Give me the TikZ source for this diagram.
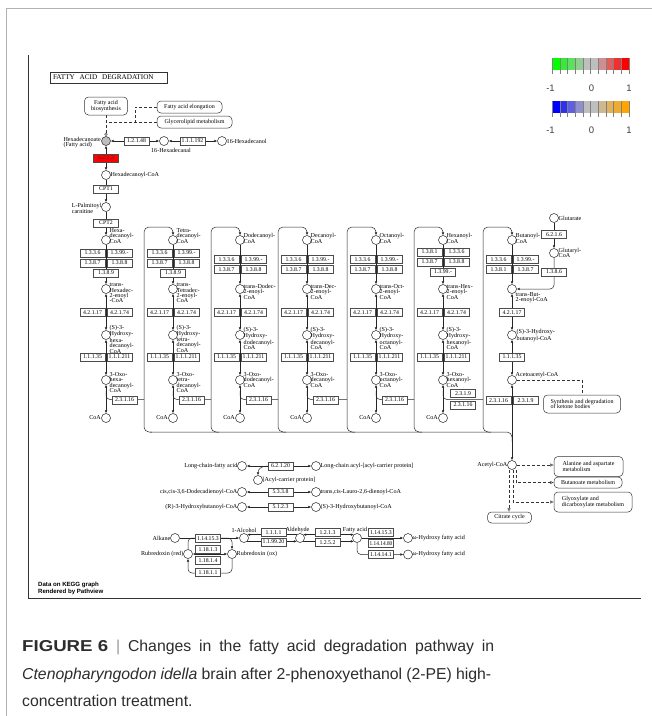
\documentclass[tikz,border=0pt]{standalone}
\usepackage{fontspec}
\setmainfont{Liberation Serif}
\newfontfamily\capsans{Liberation Sans}
\usetikzlibrary{arrows.meta,calc}
\pgfdeclarelayer{back}
\pgfdeclarelayer{bg}
\pgfsetlayers{back,bg,main}
\definecolor{kgray}{RGB}{190,190,190}
\definecolor{capc}{RGB}{45,45,45}
\definecolor{gA}{RGB}{0,255,0}
\definecolor{gB}{RGB}{48,239,48}
\definecolor{gC}{RGB}{95,223,95}
\definecolor{gD}{RGB}{143,206,143}
\definecolor{rA}{RGB}{206,143,143}
\definecolor{rB}{RGB}{223,95,95}
\definecolor{rC}{RGB}{239,48,48}
\definecolor{rD}{RGB}{255,0,0}
\definecolor{bA}{RGB}{0,0,255}
\definecolor{bB}{RGB}{48,48,239}
\definecolor{bC}{RGB}{95,95,223}
\definecolor{bD}{RGB}{143,143,206}
\definecolor{oA}{RGB}{206,184,143}
\definecolor{oB}{RGB}{223,178,95}
\definecolor{oC}{RGB}{239,171,48}
\definecolor{oD}{RGB}{255,165,0}
\tikzset{
  met/.style={circle,draw=black!85,fill=white,minimum size=9pt,inner sep=0pt,line width=0.5pt},
  enz/.style={rectangle,draw=black!70,fill=white,minimum width=25pt,minimum height=7.8pt,inner sep=0pt,line width=0.55pt,font=\fontsize{5.8}{5.8}\selectfont},
  lab/.style={inner sep=0pt,align=left,font=\fontsize{6.1}{5.4}\selectfont},
  ln/.style={draw=black!85,line width=0.5pt},
  fw/.style={ln,-{Latex[length=2.8pt,width=2.6pt]}},
  bw/.style={ln,{Latex[length=2.8pt,width=2.6pt]}-{Latex[length=2.8pt,width=2.6pt]}},
  dsh/.style={draw=black!80,line width=0.5pt,dash pattern=on 3pt off 2pt},
  dar/.style={dsh,-{Latex[open,length=3.5pt,width=3.5pt]}},
  mapb/.style={rectangle,rounded corners=4pt,draw=black!80,fill=white,line width=0.5pt,inner sep=0pt,align=left,font=\fontsize{6}{5.6}\selectfont},
  lgtick/.style={draw=black!50,line width=0.4pt},
  lgnum/.style={inner sep=0pt,font=\capsans\fontsize{9.5}{9.5}\selectfont,text=black!75},
  capline/.style={anchor=base west,inner sep=0pt,text=capc,font=\capsans\fontsize{15.8}{20}\selectfont},
}
\newcommand\epair[5]{%
  \node[enz] (#1l) at (#2-13.5,#3) {#4};
  \node[enz] (#1r) at (#2+13.5,#3) {#5};}
\newcommand\fcol[8]{%
  \node[met] (#1-a) at (#2,240) {};
  \node[lab,anchor=south west] (#1-al) at (#2+3.5,243.5) {#3};
  \node[met] (#1-t) at (#2,289) {};
  \node[lab,anchor=north west] (#1-tl) at (#2+3.5,#8) {#4};
  \node[met] (#1-h) at (#2,335) {};
  \node[lab,anchor=north west] (#1-hl) at (#2+3.5,#7) {#5};
  \node[met] (#1-o) at (#2,380) {};
  \node[lab,anchor=north west] (#1-ol) at (#2+3.5,372) {#6};
  \node[met] (#1-c) at (#2,418) {};
  \node[lab,anchor=east] (#1-cl) at (#2-5,418) {CoA};
  \epair{#1-hy}{#2}{312.5}{4.2.1.17}{4.2.1.74}
  \epair{#1-hd}{#2}{357}{1.1.1.35}{1.1.1.211}
  \begin{pgfonlayer}{bg}
    \draw[fw] (#1-a) -- (#1-t);
    \draw[bw] (#1-t) -- (#1-h);
    \draw[bw] (#1-h) -- (#1-o);
    \draw[bw] (#1-o) -- (#1-c);
  \end{pgfonlayer}}
\begin{document}
\begin{tikzpicture}[x=1pt,y=-1pt]
\useasboundingbox (0,0) rectangle (652,716);
\begin{pgfonlayer}{back}
\fill[white] (0,0) rectangle (652,716);
\end{pgfonlayer}
% frames
\draw[black!30,line width=1pt] (6,716) -- (6,8) -- (652,8);
\draw[black!80,line width=0.7pt] (28,55) -- (28,598) -- (641,598);
% title
\node[draw=black!80,line width=0.6pt,minimum height=11pt,text width=111pt,inner xsep=3pt,inner ysep=0pt,align=left,font=\fontsize{7.2}{7.2}\selectfont] (title) at (108.5,77.5) {FATTY\ \ ACID\ \ DEGRADATION};
% legend
\foreach \i/\cc in {0/gA,1/gB,2/gC,3/gD,4/kgray,5/kgray,6/rA,7/rB,8/rC,9/rD}
  \fill[\cc] (552+7.7*\i,58) rectangle (552+7.7*\i+7.7,70);
\foreach \i/\cc in {0/bA,1/bB,2/bC,3/bD,4/kgray,5/kgray,6/oA,7/oB,8/oC,9/oD}
  \fill[\cc] (552+7.7*\i,101) rectangle (552+7.7*\i+7.7,113);
\foreach \i in {0,...,10}{
  \draw[lgtick] (552+7.7*\i,58) -- (552+7.7*\i,73.5);
  \draw[lgtick] (552+7.7*\i,101) -- (552+7.7*\i,116.5);}
\node[lgnum] (lga1) at (550.5,88) {-1};
\node[lgnum] (lga2) at (591.5,88) {0};
\node[lgnum] (lga3) at (629,88) {1};
\node[lgnum] (lgb1) at (550.5,130) {-1};
\node[lgnum] (lgb2) at (591.5,130) {0};
\node[lgnum] (lgb3) at (629,130) {1};
% header
\node[mapb,align=center,minimum width=43pt,minimum height=18pt] (fab) at (106,106) {Fatty acid\\biosynthesis};
\node[mapb,minimum width=65pt,minimum height=12pt] (fae) at (189.5,107) {Fatty acid elongation};
\node[mapb,minimum width=75pt,minimum height=12pt] (glm) at (194.5,122) {Glycerolipid metabolism};
\node[met,fill=kgray] (hxa) at (106,141) {};
\node[lab,anchor=east] (hxal) at (101,142.5) {Hexadecanoate\\(Fatty acid)};
\node[enz] (e12148) at (136.5,141) {1.2.1.48};
\node[met] (hxd) at (164,141) {};
\node[lab] (hxdl) at (171,150.5) {16-Hexadecanal};
\node[enz] (e111192) at (192.5,141) {1.1.1.192};
\node[met] (hxol) at (222,141) {};
\node[lab,anchor=west] (hxoll) at (226.5,141) {16-Hexadecanol};
\node[enz,fill=red,text=black!80] (e6213) at (106,158) {6.2.1.3};
\node[met] (hcoa) at (106,175) {};
\node[lab,anchor=west] (hcoal) at (110.5,175) {Hexadecanoyl-CoA};
\node[enz] (cpt1) at (106,189) {CPT1};
\node[met] (lpc) at (106,207) {};
\node[lab,anchor=east] (lpcl) at (101.5,208.5) {L-Palmitoyl\\carnitine};
\node[enz] (cpt2) at (106,223) {CPT2};
\node[circle,draw=black!80,fill=white,inner sep=0pt,minimum size=2.6pt,line width=0.4pt] (fabend) at (106,134.2) {};
\coordinate (j1) at (135,107);
\coordinate (j2) at (135,122);
\coordinate (j3) at (106,122);
% columns
\fcol{k1}{106}{Hexa-\\decanoyl-\\CoA}{trans-\\Hexadec-\\2-enoyl\\-CoA}{(S)-3-\\Hydroxy-\\hexa-\\decanoyl-\\CoA}{3-Oxo-\\hexa-\\decanoyl-\\CoA}{325}{283}
\epair{k1-d1}{106}{253}{1.3.3.6}{1.3.99.-}
\epair{k1-d2}{106}{263}{1.3.8.7}{1.3.8.8}
\node[enz] (k1-d3) at (106,273) {1.3.8.9};
\node[enz] (k1-th) at (124.5,400) {2.3.1.16};
\fcol{k2}{173}{Tetra-\\decanoyl-\\CoA}{trans-\\Tetradec-\\2-enoyl-\\CoA}{(S)-3-\\Hydroxy-\\tetra-\\decanoyl-\\CoA}{3-Oxo-\\tetra-\\decanoyl-\\CoA}{325}{283}
\epair{k2-d1}{173}{253}{1.3.3.6}{1.3.99.-}
\epair{k2-d2}{173}{263}{1.3.8.7}{1.3.8.8}
\node[enz] (k2-d3) at (173,273) {1.3.8.9};
\node[enz] (k2-th) at (191.5,400) {2.3.1.16};
\fcol{k3}{240}{Dodecanoyl-\\CoA}{trans-Dodec-\\2-enoyl-\\CoA}{(S)-3-\\Hydroxy-\\dodecanoyl-\\CoA}{3-Oxo-\\dodecanoyl-\\CoA}{327}{284}
\epair{k3-d1}{240}{259.5}{1.3.3.6}{1.3.99.-}
\epair{k3-d2}{240}{269.5}{1.3.8.7}{1.3.8.8}
\node[enz] (k3-th) at (258.5,400) {2.3.1.16};
\fcol{k4}{307}{Decanoyl-\\CoA}{trans-Dec-\\2-enoyl-\\CoA}{(S)-3-\\Hydroxy-\\decanoyl-\\CoA}{3-Oxo-\\decanoyl-\\CoA}{327}{284}
\epair{k4-d1}{307}{259.5}{1.3.3.6}{1.3.99.-}
\epair{k4-d2}{307}{269.5}{1.3.8.7}{1.3.8.8}
\node[enz] (k4-th) at (325.5,400) {2.3.1.16};
\fcol{k5}{376}{Octanoyl-\\CoA}{trans-Oct-\\2-enoyl-\\CoA}{(S)-3-\\Hydroxy-\\octanoyl-\\CoA}{3-Oxo-\\octanoyl-\\CoA}{327}{284}
\epair{k5-d1}{376}{259.5}{1.3.3.6}{1.3.99.-}
\epair{k5-d2}{376}{269.5}{1.3.8.7}{1.3.8.8}
\node[enz] (k5-th) at (394.5,400) {2.3.1.16};
\fcol{k6}{443}{Hexanoyl-\\CoA}{trans-Hex-\\2-enoyl-\\CoA}{(S)-3-\\Hydroxy-\\hexanoyl-\\CoA}{3-Oxo-\\hexanoyl-\\CoA}{327}{284}
\epair{k6-d1}{443}{252}{1.3.8.1}{1.3.3.6}
\epair{k6-d2}{443}{262}{1.3.8.7}{1.3.8.8}
\node[enz] (k6-d3) at (443,272) {1.3.99.-};
\node[enz] (k6-th2) at (463,393.5) {2.3.1.9};
\node[enz] (k6-th) at (463,405) {2.3.1.16};
% butanoyl column
\node[met] (k7-a) at (512,240) {};
\node[lab,anchor=south west] (k7-al) at (515.5,243.5) {Butanoyl-\\CoA};
\epair{k7-d1}{512}{259.5}{1.3.3.6}{1.3.99.-}
\epair{k7-d2}{512}{269.5}{1.3.8.1}{1.3.8.7}
\node[met] (k7-t) at (512,289) {};
\node[lab,anchor=north west] (k7-tl) at (515.5,292) {trans-But-\\2-enoyl-CoA};
\node[enz] (k7-hy) at (512,312.5) {4.2.1.17};
\node[met] (k7-h) at (512,335) {};
\node[lab,anchor=west] (k7-hl) at (516.5,335.5) {(S)-3-Hydroxy-\\butanoyl-CoA};
\node[enz] (k7-hd) at (512,357) {1.1.1.35};
\node[met] (k7-o) at (512,380) {};
\node[lab,anchor=south west] (k7-ol) at (515.5,378) {Acetoacetyl-CoA};
\epair{k7-th}{512}{400.5}{2.3.1.16}{2.3.1.9}
\node[met] (acoa) at (512,465) {};
\node[lab,anchor=east] (acoal) at (507.5,465) {Acetyl-CoA};
\node[met] (glt) at (554,218) {};
\node[lab,anchor=west] (gltl) at (558.5,218) {Glutarate};
\node[enz] (e6216) at (554,234.5) {6.2.1.6};
\node[met] (gcoa) at (554,253) {};
\node[lab,anchor=north west] (gcoal) at (558.5,248) {Glutaryl-\\CoA};
\node[enz] (e1386) at (554,272) {1.3.8.6};
\coordinate (gj) at (554,289);
% maps near acetyl-CoA
\node[mapb,minimum width=77pt,minimum height=18pt] (ket) at (582,404) {Synthesis and degradation\\of ketone bodies};
\coordinate (kb1) at (582,380);
\node[mapb,minimum width=69pt,minimum height=20pt] (alamet) at (588.5,466.5) {Alanine and aspartate\\metabolism};
\node[mapb,minimum width=68pt,minimum height=11pt] (butmet) at (588,482.5) {Butanoate metabolism};
\node[mapb,minimum width=78pt,minimum height=20pt] (glymet) at (593,502) {Glyoxylate and\\dicarboxylate metabolism};
\node[mapb,minimum width=44pt,minimum height=11pt] (tca) at (509.5,517.5) {Citrate cycle};
\coordinate (cA) at ($(acoa.south)+(-3,0)$);
\coordinate (cB) at ($(acoa.south)+(1,0)$);
\coordinate (cC) at ($(acoa.south)+(4,0)$);
% lower reactions
\node[met] (lcfa) at (242,466) {};
\node[lab,anchor=east] (lcfal) at (237.5,466) {Long-chain-fatty acid};
\node[enz] (e62120) at (280.5,466) {6.2.1.20};
\node[met] (lcacp) at (316,466) {};
\node[lab,anchor=west] (lcacpl) at (320.5,466) {Long-chain acyl-[acyl-carrier protein]};
\node[met] (acp) at (258,480) {};
\node[lab,anchor=west] (acpl) at (262.5,480) {[Acyl-carrier protein]};
\coordinate (acpj) at (268,466);
\node[met] (ddc) at (242,492) {};
\node[lab,anchor=east] (ddcl) at (237.5,492) {cis,cis-3,6-Dodecadienoyl-CoA};
\node[enz] (e5338) at (280.5,492) {5.3.3.8};
\node[met] (lau) at (316,492) {};
\node[lab,anchor=west] (laul) at (320.5,492) {trans,cis-Lauro-2,6-dienoyl-CoA};
\node[met] (rhb) at (242,507) {};
\node[lab,anchor=east] (rhbl) at (237.5,507) {(R)-3-Hydroxybutanoyl-CoA};
\node[enz] (e5123) at (280.5,507) {5.1.2.3};
\node[met] (shb) at (316,507) {};
\node[lab,anchor=west] (shbl) at (320.5,507) {(S)-3-Hydroxybutanoyl-CoA};
% alkane part
\node[met] (alk) at (175,538) {};
\node[lab,anchor=east] (alkl) at (170.5,538) {Alkane};
\node[enz] (e114153a) at (208,538.5) {1.14.15.3};
\node[met] (alc) at (244,538) {};
\node[lab,anchor=south] (alcl) at (244,533) {1-Alcohol};
\node[met] (rred) at (188,554) {};
\node[lab,anchor=east] (rredl) at (183.5,554) {Rubredoxin (red)};
\node[met] (rox) at (232,554) {};
\node[lab,anchor=west] (roxl) at (236.5,554) {Rubredoxin (ox)};
\node[enz] (e11813) at (208,549.5) {1.18.1.3};
\node[enz] (e11814) at (208,560.5) {1.18.1.4};
\node[enz] (e11811) at (208,572.5) {1.18.1.1};
\coordinate (lp1) at (188,538);
\coordinate (lp2) at (232,538);
\coordinate (lp3) at (232,573);
\coordinate (lp4) at (188,573);
\node[met] (ald) at (300,538) {};
\node[lab,anchor=south] (aldl) at (297.5,533) {Aldehyde};
\node[enz] (e1111) at (273.5,532.5) {1.1.1.1};
\node[enz] (e119920) at (273.5,542) {1.1.99.20};
\node[met] (fa) at (357,538) {};
\node[lab,anchor=south] (fal) at (355,533) {Fatty acid};
\node[enz] (e1213) at (327.5,532.5) {1.2.1.3};
\node[enz] (e1252) at (327.5,542.5) {1.2.5.2};
\node[enz] (e114153b) at (381,532.5) {1.14.15.3};
\node[enz] (e1141480) at (381,543.5) {\scalebox{0.92}[1]{1.14.14.80}};
\node[enz] (e114141) at (381,554.5) {1.14.14.1};
\node[met] (wh1) at (408,538) {};
\node[lab,anchor=west] (wh1l) at (412.5,538) {ω-Hydroxy fatty acid};
\node[met] (wh2) at (408,554.5) {};
\node[lab,anchor=west] (wh2l) at (412.5,554.5) {ω-Hydroxy fatty acid};
% credits
\node[anchor=north west,inner sep=0pt,align=left,font=\capsans\bfseries\fontsize{6.1}{7.2}\selectfont] (credit) at (38,581.5) {Data on KEGG graph\\Rendered by Pathview};
% caption
\node[capline] (cap1) at (22,651.5) {\makebox[472pt][s]{\scalebox{1.18}[1]{\textbf{FIGURE 6}} {\color{black!40}|} Changes in the fatty acid degradation pathway in}};
\node[capline] (cap2) at (22,679) {\makebox[469pt][s]{\textit{Ctenopharyngodon idella} brain after 2-phenoxyethanol (2-PE) high-}};
\node[capline] (cap3) at (22,706.5) {concentration treatment.};
% connectors
\begin{pgfonlayer}{bg}
  \draw[dsh] (fab) -- (fabend);
  \draw[dsh] (fae.west) -- (j1) -- (j2);
  \draw[dsh] (glm.west) -- (j3);
  \draw[bw] (hxa) -- (hxd);
  \draw[bw] (hxd) -- (hxol);
  \draw[bw] (hxa) -- (hcoa);
  \draw[fw] (hcoa) -- (lpc);
  \draw[fw] (lpc) -- (k1-a);
  \foreach \k/\c/\L in {2/173/144,3/240/211,4/307/278,5/376/347,6/443/414,7/512/483}{
    \coordinate (lb\k) at (\L+8,432);
    \draw[fw,rounded corners=5] (lb\k) -- (\L,432) -- (\L,227) -- (\c,227) -- (k\k-a);}
  \foreach \k/\c/\Ln in {1/106/144,2/173/211,3/240/278,4/307/347,5/376/414,6/443/483}{
    \coordinate (br\k) at (\c,391);
    \coordinate (bt\k) at (\Ln,399.5);
    \draw[ln,rounded corners=4] (br\k) |- (bt\k);}
  \coordinate (hs) at (150,432);
  \coordinate (hc) at (512,432);
  \coordinate (he) at (512,442);
  \draw[ln,rounded corners=5] (hs) -- (hc) -- (he);
  \draw[fw] (k7-a) -- (k7-t);
  \draw[bw] (k7-t) -- (k7-h);
  \draw[bw] (k7-h) -- (k7-o);
  \draw[bw] (k7-o) -- (acoa);
  \draw[fw] (glt) -- (gcoa);
  \draw[fw,rounded corners=4] (gcoa) -- (gj) -- (k7-t);
  \draw[dsh] (k7-o) -- (kb1) -- (ket);
  \draw[dar] (acoa.east) -- (alamet.west |- acoa.east);
  \draw[dar] (cC) |- (butmet.west);
  \draw[dar] (cB) |- (glymet.west);
  \draw[dar] (cA) -- (cA |- tca.north);
  \draw[bw] (lcfa) -- (lcacp);
  \draw[fw] (acpj) .. controls (261,466) and (258,469) .. (acp);
  \draw[bw] (ddc) -- (lau);
  \draw[bw] (rhb) -- (shb);
  \draw[fw] (alk) -- (alc);
  \draw[fw,rounded corners=4] (rred.north) -- (lp1) -- (lp2) -- (rox.north);
  \draw[fw,rounded corners=4] (rox.south) -- (lp3) -- (lp4) -- (rred.south);
  \draw[bw] (rred) -- (rox);
  \draw[fw] (ald.north west) -- (alc.north east);
  \draw[fw] (alc.south east) -- (ald.south west);
  \draw[bw] (ald.north east) -- (fa.north west);
  \draw[fw] (ald.south east) -- (fa.south west);
  \draw[fw] (fa) -- (wh1);
  \draw[fw,rounded corners=4] (fa.south) |- (wh2);
\end{pgfonlayer}
\end{tikzpicture}
\end{document}
